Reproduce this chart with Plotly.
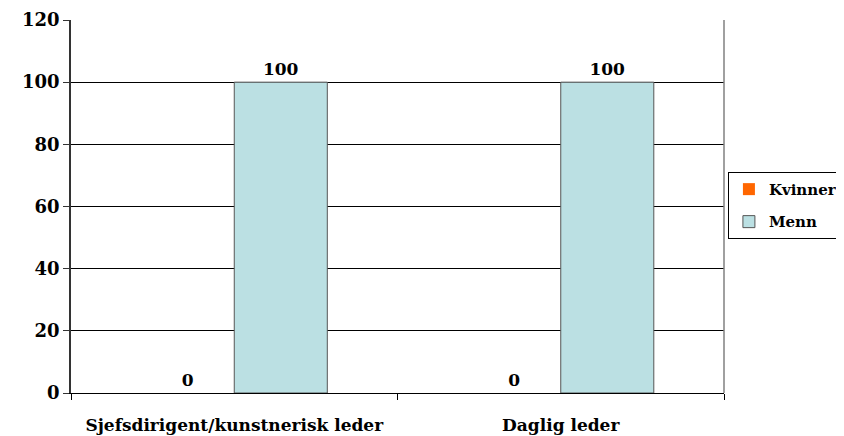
import plotly.graph_objects as go

categories = ['Sjefsdirigent/kunstnerisk leder', 'Daglig leder']
kvinner = [0, 0]
menn = [100, 100]

FONT = 'DejaVu Serif'


def bar_trace(name, values, color, outline):
    return go.Bar(
        x=categories, y=values, name=name, legendgroup=name,
        marker=dict(color=color, line=dict(color='#555555', width=outline)),
        text=[str(v) for v in values], textposition='outside',
        textfont=dict(family=FONT, size=17, color='black'),
        cliponaxis=False,
    )


fig = go.Figure()
fig.add_trace(bar_trace('Kvinner', kvinner, '#FF6600', 0))
fig.add_trace(bar_trace('Menn', menn, '#BBE0E3', 1))

# page body has an 8px margin, so the figure is sized to fit inside the window
fig.update_layout(
    width=836, height=428,
    margin=dict(l=63, r=120, t=12, b=43, autoexpand=False),
    paper_bgcolor='white', plot_bgcolor='white',
    barmode='group', bargap=0.43, bargroupgap=0,
    font=dict(family=FONT, size=17, color='black', weight='bold'),
    legend=dict(
        x=1.006, y=0.503, xanchor='left', yanchor='middle',
        bordercolor='black', borderwidth=1, bgcolor='white',
        font=dict(family=FONT, size=15, weight='bold'),
        traceorder='grouped', tracegroupgap=10, itemwidth=30,
    ),
    showlegend=True,
)
fig.update_yaxes(
    range=[0, 120], dtick=20, showgrid=True, gridcolor='black', gridwidth=1,
    showline=True, linecolor='#333333', linewidth=1.5,
    ticks='outside', ticklen=6, tickcolor='#333333',
    tickfont=dict(family=FONT, size=18, weight='bold'), zeroline=False,
)
fig.update_xaxes(
    showline=True, linecolor='black', linewidth=1,
    ticks='outside', tickson='boundaries', ticklen=6, tickcolor='black',
    ticklabelstandoff=17,
    tickfont=dict(family=FONT, size=17, weight='bold'),
)
# grey right edge of the plot area
fig.add_shape(type='line', xref='paper', yref='paper', x0=1, x1=1, y0=0, y1=1,
              line=dict(color='#808080', width=1.5))

fig.write_html('out.html')
